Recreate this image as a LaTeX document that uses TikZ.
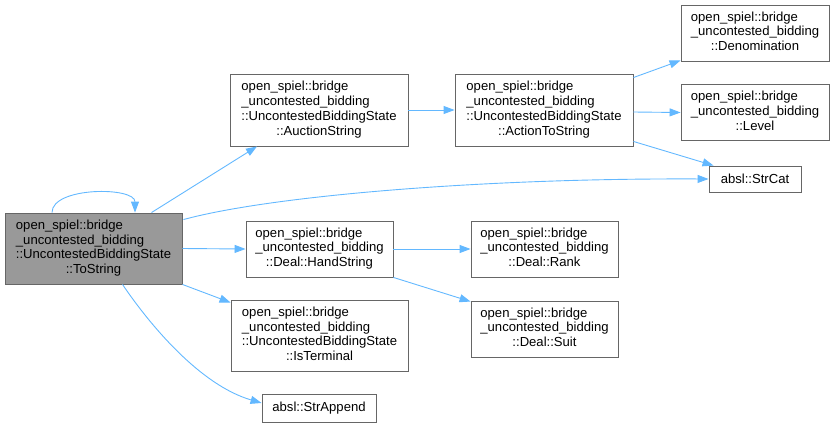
\documentclass[tikz,border=0pt]{standalone}
\usepackage{fontspec}
\setmainfont{Liberation Sans}
\usetikzlibrary{calc,arrows.meta}
\definecolor{edgec}{HTML}{63B8FF}
\definecolor{borderc}{HTML}{666666}
\definecolor{hlfill}{HTML}{999999}
\newcommand{\lbl}[2]{\begin{tabular}{@{}l@{}}#1\\\multicolumn{1}{@{}c@{}}{#2}\end{tabular}}
\begin{document}
\begin{tikzpicture}[x=1pt,y=-1pt,
  box/.style={draw=borderc,line width=0.9pt,fill=white,inner sep=0pt,align=center,
    font=\fontsize{13.1}{14.8}\selectfont},
  hl/.style={box,fill=hlfill},
  edge/.style={draw=edgec,line width=0.9pt,-{Triangle[length=11pt,width=8pt]}}]
\path[use as bounding box] (0,0) rectangle (834,426);

\node[hl,minimum width=177,minimum height=71] (ts) at (93.5,248.5)
  {\lbl{open\_spiel::bridge\\\_uncontested\_bidding\\::UncontestedBiddingState}{::ToString}};
\node[box,minimum width=178,minimum height=72] (as) at (319,110)
  {\lbl{open\_spiel::bridge\\\_uncontested\_bidding\\::UncontestedBiddingState}{::AuctionString}};
\node[box,minimum width=178,minimum height=72] (at) at (544,110)
  {\lbl{open\_spiel::bridge\\\_uncontested\_bidding\\::UncontestedBiddingState}{::ActionToString}};
\node[box,minimum width=148,minimum height=56] (den) at (755,33)
  {\lbl{open\_spiel::bridge\\\_uncontested\_bidding}{::Denomination}};
\node[box,minimum width=148,minimum height=56] (lv) at (755,112.5)
  {\lbl{open\_spiel::bridge\\\_uncontested\_bidding}{::Level}};
\node[box,minimum width=92,minimum height=26] (sc) at (755,179) {absl::StrCat};
\node[box,minimum width=147,minimum height=56] (hs) at (319.5,249)
  {\lbl{open\_spiel::bridge\\\_uncontested\_bidding}{::Deal::HandString}};
\node[box,minimum width=147,minimum height=56] (rk) at (544.5,249)
  {\lbl{open\_spiel::bridge\\\_uncontested\_bidding}{::Deal::Rank}};
\node[box,minimum width=147,minimum height=56] (su) at (544.5,329)
  {\lbl{open\_spiel::bridge\\\_uncontested\_bidding}{::Deal::Suit}};
\node[box,minimum width=177,minimum height=71] (ist) at (319.5,335.5)
  {\lbl{open\_spiel::bridge\\\_uncontested\_bidding\\::UncontestedBiddingState}{::IsTerminal}};
\node[box,minimum width=114,minimum height=28] (sa) at (319,408) {absl::StrAppend};

\draw[edge] ($(ts.north)+(-41.5,0)$) .. controls +(0,-26) and +(0,-26) .. ($(ts.north)+(41.5,0)$);
\draw[edge] ($(ts.north)+(58,0)$) -- ($(as.south)+(-62,0)$);
\draw[edge] ($(ts.north east)+(1,7)$) .. controls (270,196) and (480,178) .. (sc.west);
\draw[edge] (ts.east) -- (hs.west);
\draw[edge] (ts.south east) -- ($(ist.north west)+(0,3)$);
\draw[edge] ($(ts.south)+(29,0)$) .. controls (150,325) and (200,385) .. ($(sa.west)+(0,-5)$);
\draw[edge] (as.east) -- (at.west);
\draw[edge] ($(at.north east)+(0,4)$) -- ($(den.south west)+(0,-1)$);
\draw[edge] ($(at.east)+(0,2)$) -- (lv.west);
\draw[edge] ($(at.south east)+(0,-5)$) -- ($(sc.north west)+(5,0)$);
\draw[edge] (hs.east) -- (rk.west);
\draw[edge] (hs.south east) -- ($(su.north west)+(0,1)$);
\end{tikzpicture}
\end{document}
